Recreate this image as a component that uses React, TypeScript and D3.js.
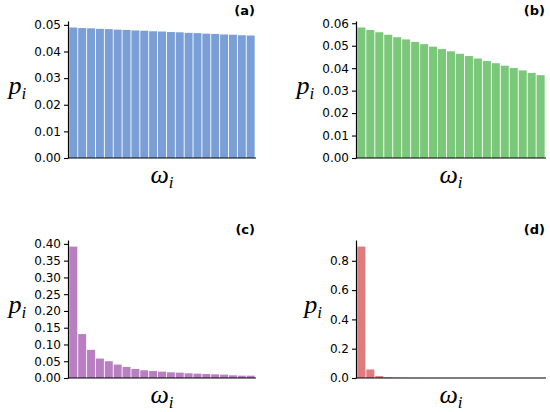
import { useCallback, useEffect, useRef } from 'react';

import { axisLeft, format, range, scaleBand, scaleLinear, select } from 'd3';

// probabilities p_i for the 21 frequencies, one array per panel
const panelA = [
  0.049, 0.0488, 0.0487, 0.0485, 0.0484, 0.0482, 0.0481, 0.0479, 0.0478, 0.0476,
  0.0475, 0.0473, 0.0472, 0.047, 0.0469, 0.0467, 0.0466, 0.0464, 0.0463, 0.0461,
  0.046,
];
const panelB = [
  0.0581, 0.057, 0.056, 0.0549, 0.0538, 0.0528, 0.0517, 0.0507, 0.0496, 0.0485,
  0.0475, 0.0464, 0.0454, 0.0443, 0.0432, 0.0422, 0.0411, 0.0401, 0.039, 0.0379,
  0.0369,
];
const panelC = [
  0.392, 0.131, 0.084, 0.058, 0.05, 0.04, 0.033, 0.027, 0.023, 0.021, 0.019,
  0.017, 0.016, 0.014, 0.013, 0.012, 0.011, 0.01, 0.008, 0.007, 0.007,
];
const panelD = [
  0.897, 0.058, 0.013, 0.004, 0.002, 0.001, 0.001, 0.0008, 0.0006, 0.0005,
  0.0004, 0.0003, 0.0003, 0.0002, 0.0002, 0.0002, 0.0001, 0.0001, 0.0001,
  0.0001, 0.0001,
];

// y tick labels per panel
const ticksA = [0, 0.01, 0.02, 0.03, 0.04, 0.05];
const ticksB = [0, 0.01, 0.02, 0.03, 0.04, 0.05, 0.06];
const ticksC = [0, 0.05, 0.1, 0.15, 0.2, 0.25, 0.3, 0.35, 0.4];
const ticksD = [0, 0.2, 0.4, 0.6, 0.8];

const panelLabels = ['(a)', '(b)', '(c)', '(d)'];

type Panel = {
  values: number[];
  ticks: number[];
  fmt: string;
  color: string;
  label: string;
  x0: number;
  x1: number;
  y0: number;
  y1: number;
};

export default function App() {
  const containerRef = useRef<HTMLDivElement>(null);

  const initChart = useCallback(() => {
    const container = containerRef.current;
    if (!container) return;
    document.body.style.margin = '0';

    const width = 550,
      height = 412;

    const div = select(container);
    div.select('svg').remove();

    const svg = div
      .append('svg')
      .attr('width', width)
      .attr('height', height)
      .style('display', 'block')
      .style('background', 'white');

    const panels: Panel[] = [
      { values: panelA, ticks: ticksA, fmt: '.2f', color: '#799fd6', label: panelLabels[0], x0: 68, x1: 256, y0: 158, y1: 21 },
      { values: panelB, ticks: ticksB, fmt: '.2f', color: '#7bc87a', label: panelLabels[1], x0: 356, x1: 546, y0: 158, y1: 21 },
      { values: panelC, ticks: ticksC, fmt: '.2f', color: '#b87fc1', label: panelLabels[2], x0: 68, x1: 256, y0: 378, y1: 240 },
      { values: panelD, ticks: ticksD, fmt: '.1f', color: '#e07b7e', label: panelLabels[3], x0: 356, x1: 546, y0: 378, y1: 240 },
    ];

    panels.forEach((p) => {
      const g = svg.append('g');

      const x = scaleBand<number>()
        .domain(range(p.values.length))
        .range([p.x0, p.x1])
        .paddingInner(0.1)
        .paddingOuter(0.15);

      const ymax = (Math.max(...p.values) as number) * 1.05;
      const y = scaleLinear().domain([0, ymax]).range([p.y0, p.y1]);

      // bars
      g.append('g')
        .selectAll('rect')
        .data(p.values)
        .join('rect')
        .attr('x', (_, i) => x(i) ?? 0)
        .attr('width', x.bandwidth())
        .attr('y', (d) => y(d))
        .attr('height', (d) => p.y0 - y(d))
        .attr('fill', p.color);

      // y axis
      const yAxis = g
        .append('g')
        .attr('transform', `translate(${p.x0},0)`)
        .call(
          axisLeft(y)
            .tickValues(p.ticks)
            .tickFormat(format(p.fmt))
            .tickSize(4)
            .tickPadding(3)
            .tickSizeOuter(0),
        );
      yAxis.select('.domain').attr('stroke', '#000').attr('stroke-width', 1.2);
      yAxis.selectAll('.tick line').attr('stroke', '#000').attr('stroke-width', 1.1);
      yAxis
        .selectAll('.tick text')
        .attr('fill', '#000')
        .attr('font-family', 'DejaVu Sans, sans-serif')
        .attr('font-size', 12);

      // bottom spine
      g.append('line')
        .attr('x1', p.x0)
        .attr('x2', p.x1)
        .attr('y1', p.y0)
        .attr('y2', p.y0)
        .attr('stroke', '#000')
        .attr('stroke-width', 1.2);

      // panel label
      g.append('text')
        .attr('x', p.x1 - 1)
        .attr('y', p.y1 - 6)
        .attr('text-anchor', 'end')
        .attr('font-family', 'DejaVu Sans, sans-serif')
        .attr('font-weight', 'bold')
        .attr('font-size', 13)
        .text(p.label);

      // y label p_i, placed left of the tick labels
      // (bbox is in the axis group's own coords, so add its translate)
      const box = (yAxis.node() as SVGGElement).getBBox();
      const ylab = g
        .append('text')
        .attr('x', p.x0 + box.x - 8)
        .attr('y', (p.y0 + p.y1) / 2 + 4)
        .attr('text-anchor', 'end')
        .attr('font-family', 'Liberation Serif, serif')
        .attr('font-style', 'italic')
        .attr('font-size', 26);
      ylab.append('tspan').text('p');
      ylab.append('tspan').attr('font-size', 17).attr('dy', 5).text('i');

      // x label omega_i
      const xlab = g
        .append('text')
        .attr('x', (p.x0 + p.x1) / 2)
        .attr('y', p.y0 + 25)
        .attr('text-anchor', 'middle')
        .attr('font-family', 'Liberation Serif, serif')
        .attr('font-style', 'italic')
        .attr('font-size', 26);
      xlab.append('tspan').text('ω');
      xlab.append('tspan').attr('font-size', 17).attr('dy', 5).text('i');
    });
  }, []);

  const destroyChart = useCallback(() => {
    const container = containerRef.current;
    if (!container) return;

    select(container).select('svg').remove();
  }, []);

  useEffect(() => {
    initChart();
    return destroyChart;
  }, [destroyChart, initChart]);

  return <div ref={containerRef} />;
}
